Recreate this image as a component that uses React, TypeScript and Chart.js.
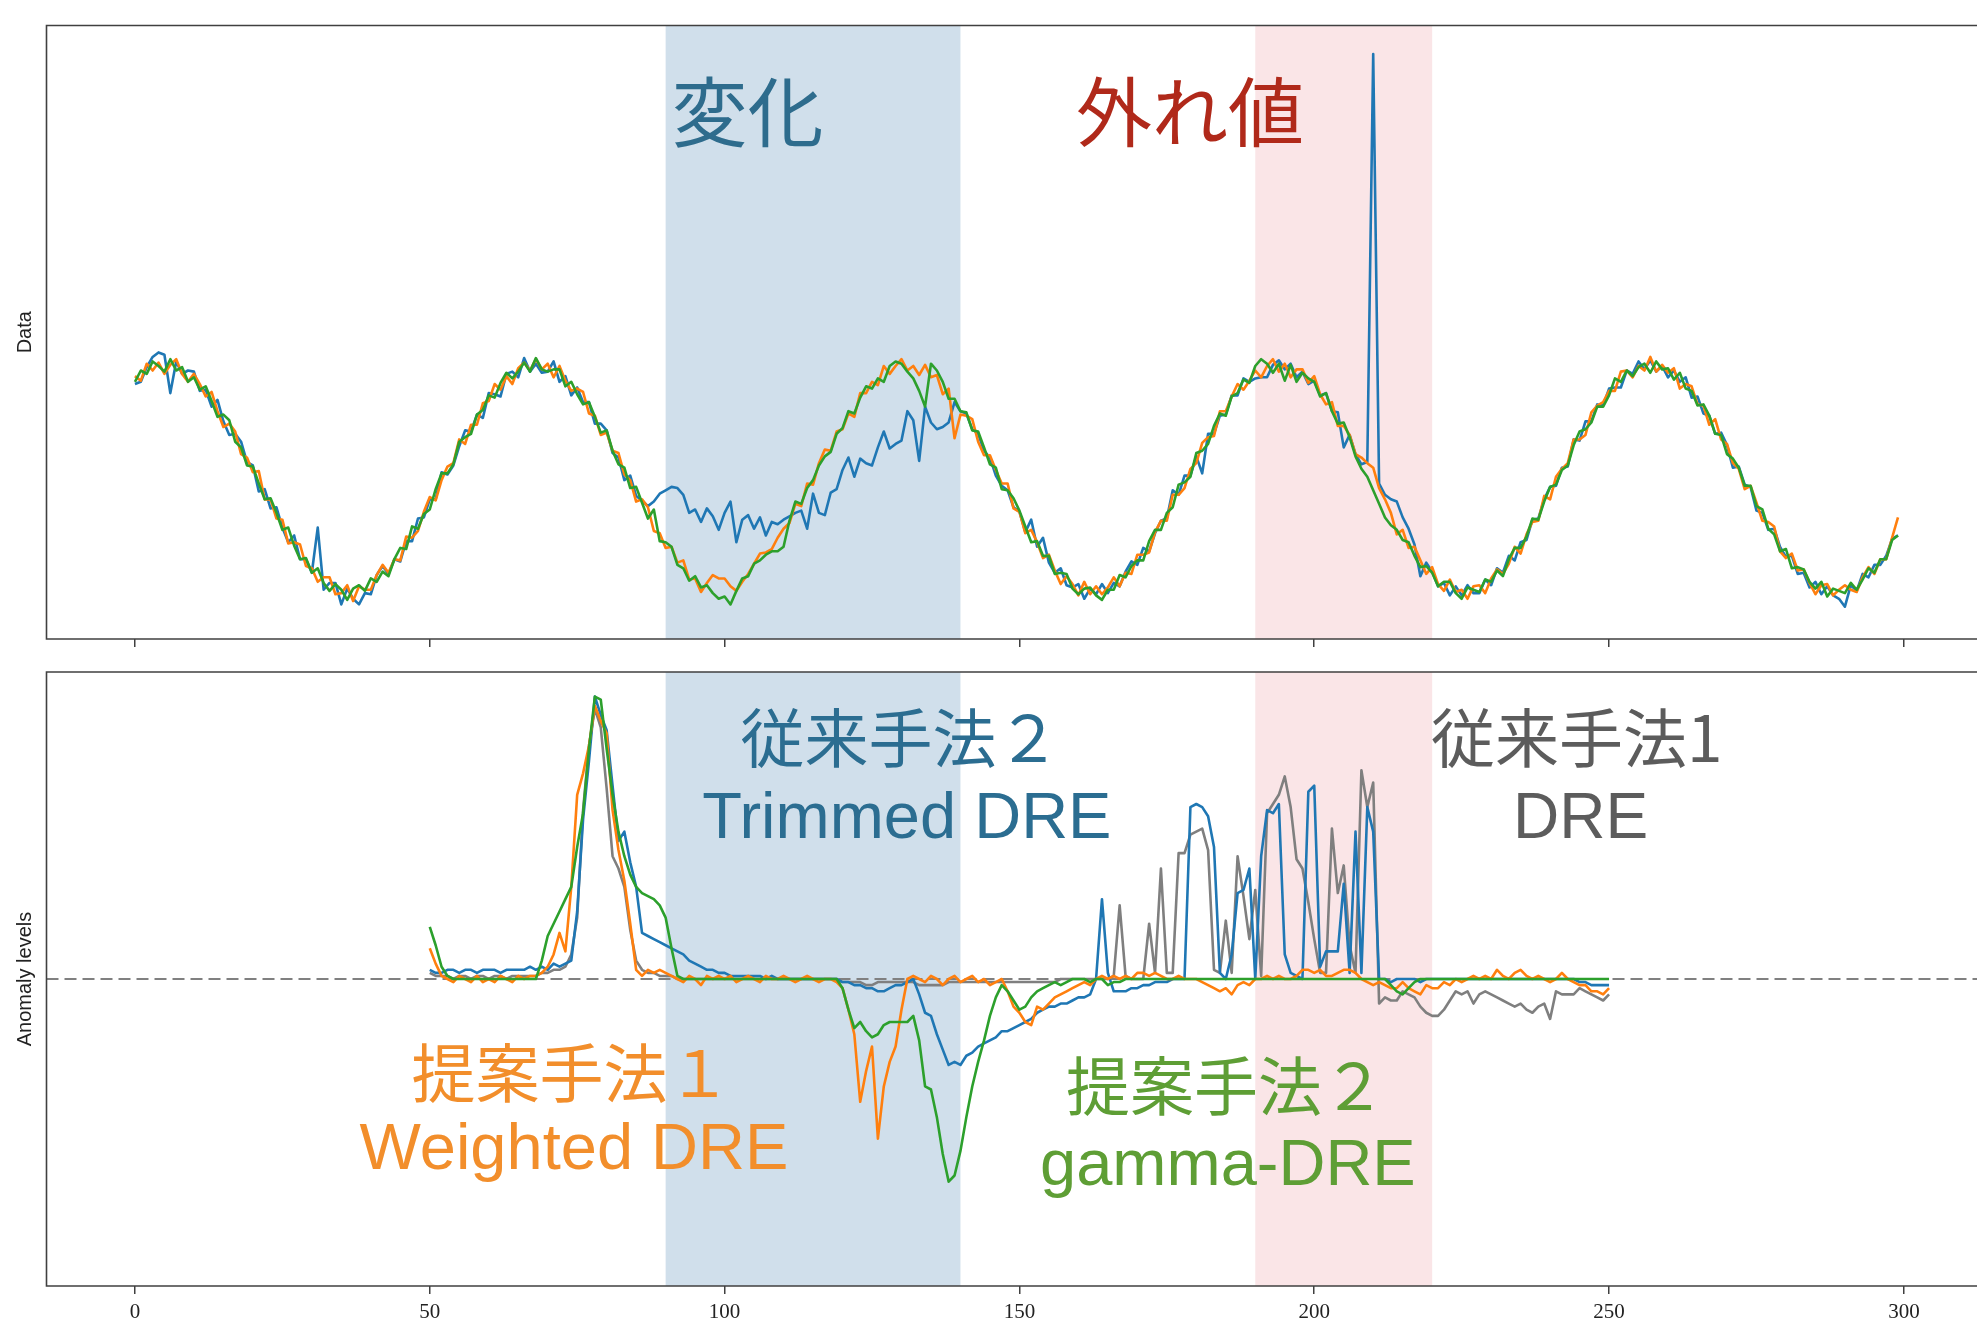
import React, { useEffect, useRef } from "react";
import { Chart, registerables } from "chart.js";

Chart.register(...registerables);

// ---------------- data ----------------
const X_TICKS = [0, 50, 100, 150, 200, 250, 300];
const X_RANGE = [-15, 312.4];
const CHANGE_SPAN = [90, 140];
const OUTLIER_SPAN = [190, 220];
const TOP_X_START = 0;
const ANOM_X_START = 50;
const TOP_Y_RANGE = [-141.6, 401.3];
const ANOM_Y_RANGE = [-100, 100];

// Top panel: observed data (blue), and two other traces (orange, green)
const dataBlue = [
  84, 86, 99, 108, 112, 110, 76, 104, 93, 96,
  95, 78, 79, 64, 70, 51, 39, 40, 33, 15,
  12, -11, -9, -26, -25, -43, -56, -50, -71, -71,
  -83, -43, -98, -92, -92, -111, -97, -106, -111, -101,
  -102, -85, -77, -84, -71, -73, -55, -55, -35, -34,
  -18, -18, 6, 4, 12, 29, 43, 42, 57, 54,
  76, 75, 73, 93, 95, 90, 107, 95, 102, 94,
  95, 104, 86, 91, 74, 81, 68, 68, 49, 49,
  43, 23, 19, -1, 3, -15, -19, -24, -20, -13,
  -10, -7, -8, -14, -30, -27, -38, -26, -33, -45,
  -30, -20, -56, -36, -32, -44, -34, -50, -38, -40,
  -36, -33, -30, -28, -44, -13, -30, -32, -12, -9,
  8, 19, 2, 18, 14, 12, 28, 42, 27, 31,
  34, 60, 52, 16, 64, 50, 44, 46, 50, 68,
  60, 58, 44, 40, 25, 19, 3, -6, -10, -25,
  -29, -47, -36, -60, -52, -74, -83, -79, -94, -96,
  -93, -106, -97, -102, -93, -101, -92, -95, -82, -73,
  -76, -61, -64, -48, -37, -35, -10, -14, 3, 3,
  20, 5, 40, 40, 56, 57, 74, 74, 89, 86,
  89, 90, 90, 101, 105, 97, 102, 90, 95, 84,
  87, 74, 76, 60, 59, 28, 39, 22, 13, 15,
  376, -4, -14, -18, -20, -34, -44, -58, -86, -74,
  -82, -95, -92, -103, -95, -103, -94, -101, -101, -89,
  -94, -79, -83, -68, -72, -56, -54, -36, -35, -18,
  -7, -6, 10, 11, 35, 34, 51, 51, 66, 65,
  80, 81, 81, 96, 93, 104, 97, 105, 95, 100,
  90, 96, 86, 90, 72, 73, 58, 56, 40, 41,
  30, 10, 11, -5, -7, -28, -30, -45, -44, -60,
  -69, -68, -84, -83, -96, -91, -102, -95, -103, -106,
  -113, -94, -99, -84, -87, -76, -76, -68, -53, -50,
];

const dataOrange = [
  91, 87, 102, 96, 103, 93, 101, 106, 93, 86,
  93, 84, 73, 77, 60, 46, 49, 42, 22, 19,
  6, 7, -18, -18, -35, -36, -57, -56, -58, -77,
  -79, -91, -87, -87, -102, -101, -94, -108, -95, -98,
  -98, -85, -76, -83, -71, -72, -51, -52, -46, -29,
  -16, -19, -1, 11, 14, 35, 31, 48, 48, 67,
  69, 84, 79, 91, 84, 98, 103, 96, 106, 97,
  102, 90, 100, 87, 78, 80, 77, 58, 56, 39,
  41, 25, 23, 4, -1, -20, -18, -25, -46, -48,
  -61, -60, -74, -72, -89, -88, -100, -92, -85, -88,
  -88, -95, -99, -91, -84, -75, -66, -65, -62, -52,
  -44, -39, -22, -24, -4, -5, 14, 26, 25, 42,
  44, 58, 55, 76, 76, 86, 83, 100, 93, 100,
  106, 96, 100, 92, 101, 90, 92, 75, 80, 36,
  57, 56, 53, 33, 21, 21, 8, -4, -4, -26,
  -29, -48, -45, -56, -70, -67, -81, -93, -86, -93,
  -103, -91, -102, -95, -102, -96, -87, -95, -83, -84,
  -67, -67, -65, -47, -37, -37, -14, -14, -8, 9,
  14, 32, 37, 38, 60, 60, 73, 84, 79, 87,
  96, 90, 100, 106, 95, 102, 90, 97, 97, 85,
  91, 75, 66, 68, 47, 47, 39, 22, 19, 14,
  10, -8, -18, -30, -49, -45, -61, -60, -72, -84,
  -78, -93, -99, -89, -100, -98, -106, -95, -94, -101,
  -88, -80, -84, -75, -60, -66, -49, -38, -37, -15,
  -18, 2, 9, 14, 35, 35, 39, 59, 65, 68,
  78, 78, 95, 96, 90, 100, 96, 108, 95, 101,
  94, 98, 80, 84, 82, 66, 65, 48, 53, 35,
  31, 14, 9, -9, -6, -21, -37, -38, -42, -64,
  -70, -66, -81, -80, -92, -102, -94, -93, -103, -98,
  -94, -98, -100, -87, -78, -84, -71, -71, -52, -34,
];

const dataGreen = [
  86, 96, 93, 104, 100, 95, 106, 96, 99, 86,
  90, 79, 82, 69, 55, 57, 52, 33, 28, 12,
  11, -4, -18, -17, -30, -45, -43, -59, -71, -70,
  -83, -79, -92, -99, -93, -98, -107, -97, -94, -99,
  -88, -91, -82, -86, -71, -61, -62, -42, -44, -31,
  -27, -9, 5, 5, 13, 33, 37, 40, 57, 61,
  74, 72, 85, 94, 89, 95, 103, 95, 107, 97,
  95, 97, 97, 82, 86, 75, 66, 68, 55, 41,
  43, 25, 13, 10, -8, -7, -21, -35, -27, -55,
  -56, -60, -76, -79, -90, -86, -96, -94, -101, -106,
  -104, -111, -99, -88, -86, -75, -72, -67, -64, -64,
  -60, -37, -20, -22, -8, -1, 12, 20, 24, 40,
  45, 60, 58, 72, 82, 80, 89, 86, 100, 104,
  102, 95, 89, 78, 64, 102, 96, 86, 71, 71,
  60, 59, 43, 42, 28, 13, 10, -9, -10, -17,
  -28, -42, -56, -55, -68, -68, -84, -83, -84, -97,
  -102, -97, -96, -103, -107, -98, -98, -85, -87, -77,
  -72, -72, -55, -45, -45, -30, -25, -5, -3, 2,
  23, 25, 31, 47, 58, 56, 73, 76, 88, 85,
  100, 106, 102, 94, 102, 87, 101, 86, 94, 89,
  86, 73, 76, 60, 49, 50, 37, 20, 9, 2,
  -10, -22, -34, -41, -45, -54, -56, -68, -78, -77,
  -83, -95, -91, -91, -101, -106, -96, -98, -100, -89,
  -91, -81, -86, -71, -61, -61, -51, -35, -36, -20,
  -7, -5, 8, 12, 30, 42, 44, 50, 64, 64,
  74, 89, 86, 96, 91, 99, 102, 94, 104, 97,
  98, 88, 94, 80, 78, 65, 66, 56, 40, 39,
  22, 18, 10, -6, -6, -24, -27, -44, -49, -64,
  -62, -79, -78, -80, -91, -97, -91, -104, -97, -99,
  -101, -92, -98, -89, -79, -83, -71, -71, -54, -50,
];

// Bottom panel: anomaly levels, x = 50 .. 250
const anomGray = [
  2, 1, 1, 1, 0, 1, 1, 0, 1, 1,
  0, 1, 1, 0, 1, 1, 1, 1, 1, 2,
  2, 3, 3, 4, 8, 20, 55, 76, 88, 82,
  62, 40, 36, 30, 16, 6, 3, 2, 2, 1,
  1, 1, 0, 0, 0, 0, 0, 0, 0, 0,
  0, 0, 0, 0, 0, 0, 0, 0, 0, 0,
  0, 0, 0, 0, 0, 0, 0, 0, 0, 0,
  -1, -1, -1, -1, -2, -2, -1, -1, -1, -1,
  -1, -1, -1, -2, -2, -2, -2, -2, -1, -1,
  -1, -1, -1, -1, -1, -1, -1, -1, -1, -1,
  -1, -1, -1, -1, -1, -1, -1, 0, 0, 0,
  0, 0, 0, 0, 0, 0, 1, 24, 1, 0,
  0, 0, 18, 2, 36, 2, 2, 41, 41, 47,
  48, 49, 42, 3, 2, 19, 2, 40, 27, 13,
  29, 1, 54, 57, 60, 66, 56, 39, 36, 25,
  13, 2, 2, 49, 28, 37, 11, 2, 68, 56,
  64, -8, -6, -7, -7, -4, -5, -6, -9, -11,
  -12, -12, -10, -7, -4, -5, -4, -8, -5, -4,
  -5, -6, -7, -8, -9, -8, -10, -11, -9, -8,
  -13, -4, -5, -5, -5, -3, -4, -5, -6, -7,
  -5,
];

const anomBlue = [
  3, 2, 2, 3, 3, 2, 3, 3, 2, 3,
  3, 3, 2, 3, 3, 3, 3, 4, 3, 4,
  3, 5, 4, 5, 6, 22, 52, 71, 92, 86,
  81, 63, 45, 48, 38, 30, 15, 14, 13, 12,
  11, 10, 9, 8, 6, 5, 4, 3, 3, 2,
  2, 1, 1, 1, 1, 1, 1, 0, 1, 0,
  0, 0, 0, 0, 0, 0, 0, 0, 0, 0,
  -1, -1, -2, -2, -3, -3, -4, -4, -3, -2,
  -2, -1, 0, -5, -11, -12, -18, -23, -28, -27,
  -28, -25, -24, -22, -21, -20, -19, -17, -17, -16,
  -15, -14, -13, -11, -10, -9, -9, -8, -8, -7,
  -6, -6, -5, 0, 26, 2, -4, -4, -4, -3,
  -3, -2, -2, -1, -1, -1, 0, 0, 0, 56,
  57, 56, 53, 43, 2, 0, 8, 28, 29, 36,
  0, 40, 55, 54, 57, 8, 2, 1, 0, 61,
  63, 4, 9, 9, 9, 31, 2, 48, 2, 56,
  48, 0, 0, -1, 0, 0, 0, 0, -1, 0,
  0, 0, 0, 0, 0, 0, 0, 0, 0, 0,
  0, 0, 0, 0, 0, 0, 0, 0, 0, 0,
  0, 0, 0, 0, 0, -1, -1, -2, -2, -2,
  -2,
];

const anomOrange = [
  10, 5, 1, 0, -1, 1, 0, -1, 1, -1,
  0, -1, 1, 0, -1, 1, 0, 1, 1, 2,
  4, 8, 15, 9, 30, 60, 67, 76, 89, 84,
  80, 55, 42, 32, 18, 3, 1, 3, 2, 3,
  2, 1, 0, -1, 1, 0, -2, 1, 0, 1,
  0, 1, -1, 0, 1, 0, -1, 1, 0, 0,
  1, 0, -1, 0, 1, 0, -1, 0, 0, -1,
  -3, -10, -18, -40, -30, -22, -52, -35, -27, -22,
  -10, 0, 1, 0, -1, 1, 0, -2, 0, 1,
  -1, 0, 1, -1, 0, -2, -1, 0, -4, -9,
  -11, -14, -15, -9, -10, -8, -6, -5, -4, -3,
  -2, -1, -2, 0, 1, 0, 1, 0, 1, 0,
  2, 2, 1, 2, 1, 0, 0, 1, 0, 0,
  0, -1, -2, -3, -4, -3, -5, -2, -1, -2,
  0, 0, 1, 0, 1, 0, 0, 1, 3, 3,
  2, 3, 1, 1, 2, 3, 3, 2, 0, -1,
  -2, -1, -2, -3, -3, -1, -3, -4, -5, -2,
  -3, -3, -1, -2, 0, -1, 0, 1, 0, 1,
  0, 3, 1, 0, 2, 3, 1, 0, 1, 0,
  -1, 0, 2, 0, -1, -2, -2, -4, -4, -5,
  -3,
];

const anomGreen = [
  17, 11, 4, 1, 0, 0, 0, 0, 0, 0,
  0, 0, 0, 0, 0, 0, 0, 0, 0, 6,
  14, 18, 22, 26, 30, 43, 54, 75, 92, 91,
  75, 60, 48, 40, 34, 30, 28, 27, 26, 24,
  20, 10, 1, 0, 0, 0, 0, 0, 0, 0,
  0, 0, 0, 0, 0, 0, 0, 0, 0, 0,
  0, 0, 0, 0, 0, 0, 0, 0, 0, 0,
  -3, -10, -16, -14, -17, -19, -18, -15, -14, -14,
  -14, -14, -12, -20, -35, -36, -45, -57, -66, -64,
  -56, -45, -35, -27, -20, -12, -6, -2, -4, -7,
  -10, -9, -6, -4, -3, -2, -1, -2, -1, 0,
  0, 0, -1, 0, 0, -2, -1, -1, 0, 0,
  0, 0, 0, 0, 0, 0, 0, 0, 0, 0,
  0, 0, 0, 0, 0, 0, 0, 0, 0, 0,
  0, 0, 0, 0, 0, 0, 0, 0, 0, 0,
  0, 0, 0, 0, 0, 0, 0, 0, 0, 0,
  0, 0, 0, -2, -4, -5, -3, -1, 0, 0,
  0, 0, 0, 0, 0, 0, 0, 0, 0, 0,
  0, 0, 0, 0, 0, 0, 0, 0, 0, 0,
  0, 0, 0, 0, 0, 0, 0, 0, 0, 0,
  0,
];

// ---------------- text annotations ----------------
const CJK = '"Noto Sans CJK JP", sans-serif';
const LATIN = '"Liberation Sans", "Noto Sans CJK JP", sans-serif';

const TOP_NOTES = [
  { text: "変化", x: 91.0, y: 324.8, color: "#2e6c8d", font: `76px ${CJK}`, base: "middle" },
  { text: "外れ値", x: 159.6, y: 324.8, color: "#b0291a", font: `76px ${CJK}`, base: "middle" },
];

const ANOM_NOTES = [
  { text: "従来手法２", x: 102.7, y: 78.5, color: "#2b6d91", font: `64px ${CJK}`, base: "middle" },
  { text: "Trimmed DRE", x: 96.2, y: 46.0, color: "#2b6d91", font: `65px ${LATIN}`, base: "alphabetic" },
  { text: "従来手法1", x: 219.8, y: 78.5, color: "#5c5c5c", font: `64px ${CJK}`, base: "middle" },
  { text: "DRE", x: 233.7, y: 46.0, color: "#5c5c5c", font: `64px ${LATIN}`, base: "alphabetic" },
  { text: "提案手法１", x: 46.9, y: -30.5, color: "#f28e2b", font: `64px ${CJK}`, base: "middle" },
  { text: "Weighted DRE", x: 38.1, y: -62.0, color: "#f28e2b", font: `65px ${LATIN}`, base: "alphabetic" },
  { text: "提案手法２", x: 157.9, y: -34.7, color: "#5e9e35", font: `64px ${CJK}`, base: "middle" },
  { text: "gamma-DRE", x: 153.5, y: -67.2, color: "#5e9e35", font: `65px ${LATIN}`, base: "alphabetic" },
];

// ---------------- helpers ----------------
const toPoints = (arr: number[], start: number) => arr.map((y, i) => ({ x: start + i, y }));

const lineDs = (data: number[], start: number, color: string) => ({
  data: toPoints(data, start),
  borderColor: color,
  borderWidth: 2.6,
  pointRadius: 0,
  tension: 0,
  fill: false,
  borderJoinStyle: "round" as const,
});

const FRAME = "#404040";

function decorPlugin(yLabel: string, notes: any[], zeroLine: boolean) {
  return {
    id: "decor",
    beforeDatasetsDraw(chart: any) {
      const { ctx, chartArea: a, scales } = chart;
      const xs = scales.x;
      const ys = scales.y;
      ctx.save();
      const spans: [number[], string][] = [
        [CHANGE_SPAN, "rgb(208,223,235)"],
        [OUTLIER_SPAN, "rgb(250,229,231)"],
      ];
      for (const [span, col] of spans) {
        const x0 = xs.getPixelForValue(span[0]);
        const x1 = xs.getPixelForValue(span[1]);
        ctx.fillStyle = col;
        ctx.fillRect(x0, a.top, x1 - x0, a.bottom - a.top);
      }
      if (zeroLine) {
        const y0 = ys.getPixelForValue(0);
        ctx.strokeStyle = "#808080";
        ctx.lineWidth = 2;
        ctx.setLineDash([12, 6]);
        ctx.beginPath();
        ctx.moveTo(a.left, y0);
        ctx.lineTo(a.right, y0);
        ctx.stroke();
      }
      ctx.restore();
    },
    afterDatasetsDraw(chart: any) {
      const { ctx, scales } = chart;
      ctx.save();
      for (const n of notes) {
        ctx.font = n.font;
        ctx.fillStyle = n.color;
        ctx.textAlign = "left";
        ctx.textBaseline = n.base;
        ctx.fillText(n.text, scales.x.getPixelForValue(n.x), scales.y.getPixelForValue(n.y));
      }
      ctx.restore();
    },
    afterDraw(chart: any) {
      const { ctx, chartArea: a } = chart;
      ctx.save();
      ctx.strokeStyle = FRAME;
      ctx.lineWidth = 1.6;
      ctx.beginPath();
      ctx.moveTo(a.right + 2, a.top);
      ctx.lineTo(a.left, a.top);
      ctx.lineTo(a.left, a.bottom);
      ctx.lineTo(a.right + 2, a.bottom);
      ctx.stroke();
      ctx.translate(25, (a.top + a.bottom) / 2);
      ctx.rotate(-Math.PI / 2);
      ctx.font = '20px "Liberation Sans", sans-serif';
      ctx.fillStyle = "#222";
      ctx.textAlign = "center";
      ctx.textBaseline = "middle";
      ctx.fillText(yLabel, 0, 0);
      ctx.restore();
    },
  };
}

function makeOptions(yRange: number[], axisHeight: number, showLabels: boolean, padTop: number) {
  return {
    responsive: false,
    animation: false,
    devicePixelRatio: 1,
    events: [],
    layout: { padding: { left: 46.5, right: 0, top: padTop, bottom: 0 } },
    plugins: { legend: { display: false }, tooltip: { enabled: false }, title: { display: false } },
    scales: {
      x: {
        type: "linear",
        min: X_RANGE[0],
        max: X_RANGE[1],
        afterBuildTicks: (s: any) => {
          s.ticks = X_TICKS.map((v) => ({ value: v }));
        },
        afterFit: (s: any) => {
          s.height = axisHeight;
        },
        grid: {
          display: true,
          drawOnChartArea: false,
          drawTicks: true,
          tickLength: 8,
          color: FRAME,
          lineWidth: 1.5,
        },
        border: { display: false },
        ticks: {
          display: true,
          color: showLabels ? "#222" : "rgba(0,0,0,0)",
          font: { family: '"Liberation Serif", serif', size: 21 },
          padding: 6,
          maxRotation: 0,
          autoSkip: false,
        },
      },
      y: { type: "linear", display: false, min: yRange[0], max: yRange[1] },
    },
  };
}

export default function App() {
  const topRef = useRef<HTMLCanvasElement>(null);
  const botRef = useRef<HTMLCanvasElement>(null);

  useEffect(() => {
    const top = new Chart(topRef.current as HTMLCanvasElement, {
      type: "line",
      data: {
        datasets: [
          lineDs(dataGreen, TOP_X_START, "#2ca02c"),
          lineDs(dataOrange, TOP_X_START, "#ff7f0e"),
          lineDs(dataBlue, TOP_X_START, "#1f77b4"),
        ],
      },
      options: makeOptions(TOP_Y_RANGE, 16, false, 25.5) as any,
      plugins: [decorPlugin("Data", TOP_NOTES, false)],
    });
    const bot = new Chart(botRef.current as HTMLCanvasElement, {
      type: "line",
      data: {
        datasets: [
          lineDs(anomGreen, ANOM_X_START, "#2ca02c"),
          lineDs(anomOrange, ANOM_X_START, "#ff7f0e"),
          lineDs(anomBlue, ANOM_X_START, "#1f77b4"),
          lineDs(anomGray, ANOM_X_START, "#7f7f7f"),
        ],
      },
      options: makeOptions(ANOM_Y_RANGE, 54, true, 17) as any,
      plugins: [decorPlugin("Anomaly levels", ANOM_NOTES, true)],
    });
    return () => {
      top.destroy();
      bot.destroy();
    };
  }, []);

  return (
    <div style={{ position: "fixed", left: 0, top: 0, width: 1977, height: 1320, background: "#fff", overflow: "hidden" }}>
      <canvas
        ref={topRef}
        width={1977}
        height={655}
        style={{ position: "absolute", left: 0, top: 0, width: 1977, height: 655 }}
      />
      <canvas
        ref={botRef}
        width={1977}
        height={685}
        style={{ position: "absolute", left: 0, top: 655, width: 1977, height: 685 }}
      />
    </div>
  );
}
